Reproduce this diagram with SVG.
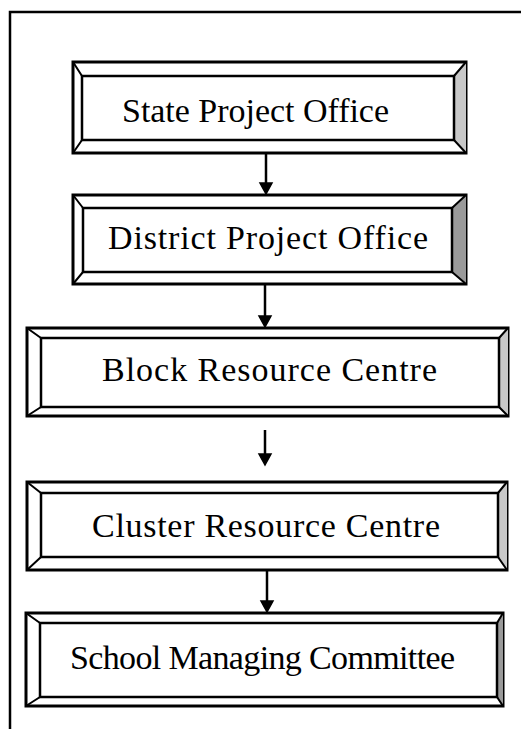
<svg xmlns="http://www.w3.org/2000/svg" width="521" height="729" viewBox="0 0 521 729">
<style>
.frame{fill:none;stroke:#000;stroke-width:2.5}
.outer{fill:#fff;stroke:#000;stroke-width:3}
.inner{fill:#fff;stroke:#000;stroke-width:2.5}
.shade{fill:#c8c8c8;stroke:none}
.shade.dark{fill:#9a9a9a}
.diag{stroke:#000;stroke-width:2;fill:none}
.lbl{font-family:"Liberation Serif","Times New Roman",serif;font-size:34px;fill:#000}
.conn{stroke:#000;stroke-width:2.5;fill:none}
.head{fill:#000;stroke:#000;stroke-width:1.5;stroke-linejoin:miter}
</style>
<rect width="521" height="729" fill="#fff"/>
<path class="frame" d="M10,729 V12 H521"/>
<g id="connectors">
<line class="conn" x1="266" y1="153" x2="266" y2="184"/>
<polygon class="head" points="260,183 272,183 266,194"/>
<line class="conn" x1="265" y1="284" x2="265" y2="317"/>
<polygon class="head" points="259,316 271,316 265,327"/>
<line class="conn" x1="265" y1="430" x2="265" y2="455"/>
<polygon class="head" points="259,454 271,454 265,465"/>
<line class="conn" x1="267" y1="570" x2="267" y2="602"/>
<polygon class="head" points="261,601 273,601 267,612"/>
</g>
<g id="n1">
<rect class="outer" x="73" y="62" width="393" height="91"/>
<polygon class="shade" points="466,62 454,76 454,140 466,153"/>
<rect class="inner" x="82" y="76" width="372" height="64"/>
<path class="diag" d="M73,62 L82,76 M466,62 L454,76 M73,153 L82,140 M466,153 L454,140"/>
<text class="lbl" x="122" y="122" textLength="267" lengthAdjust="spacing">State Project Office</text>
</g>
<g id="n2">
<rect class="outer" x="73" y="195" width="393" height="89"/>
<polygon class="shade dark" points="466,195 452,208 452,272 466,284"/>
<rect class="inner" x="83" y="208" width="369" height="64"/>
<path class="diag" d="M73,195 L83,208 M466,195 L452,208 M73,284 L83,272 M466,284 L452,272"/>
<text class="lbl" x="108" y="249" textLength="320" lengthAdjust="spacing">District Project Office</text>
</g>
<g id="n3">
<rect class="outer" x="27" y="328" width="481" height="88"/>
<polygon class="shade" points="508,328 499,338 499,407 508,416"/>
<rect class="inner" x="41" y="338" width="458" height="69"/>
<path class="diag" d="M27,328 L41,338 M508,328 L499,338 M27,416 L41,407 M508,416 L499,407"/>
<text class="lbl" x="102" y="381" textLength="335" lengthAdjust="spacing">Block Resource Centre</text>
</g>
<g id="n4">
<rect class="outer" x="27" y="482" width="480" height="88"/>
<polygon class="shade" points="507,482 498,493 498,557 507,570"/>
<rect class="inner" x="41" y="493" width="457" height="64"/>
<path class="diag" d="M27,482 L41,493 M507,482 L498,493 M27,570 L41,557 M507,570 L498,557"/>
<text class="lbl" x="92" y="537" textLength="348" lengthAdjust="spacing">Cluster Resource Centre</text>
</g>
<g id="n5">
<rect class="outer" x="26" y="613" width="477" height="93"/>
<polygon class="shade dark" points="503,613 497,623 497,697 503,706"/>
<rect class="inner" x="40" y="623" width="457" height="74"/>
<path class="diag" d="M26,613 L40,623 M503,613 L497,623 M26,706 L40,697 M503,706 L497,697"/>
<text class="lbl" x="70" y="669" textLength="385" lengthAdjust="spacing">School Managing Committee</text>
</g>
</svg>
